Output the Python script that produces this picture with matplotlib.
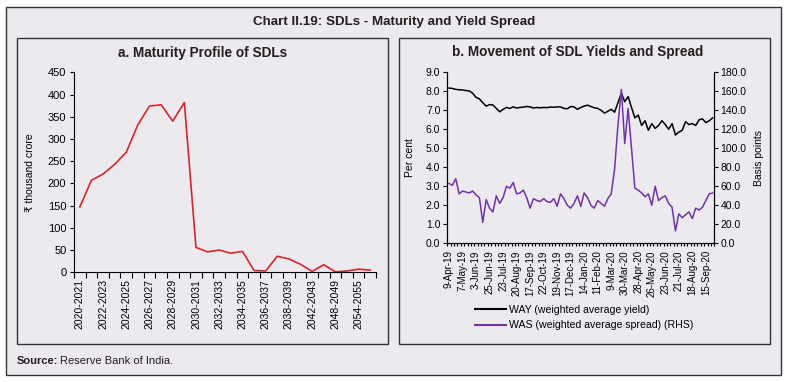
import matplotlib
matplotlib.use("Agg")
import matplotlib.pyplot as plt
from matplotlib.patches import Rectangle
from matplotlib.lines import Line2D
from matplotlib.ticker import FormatStrFormatter
import numpy as np

plt.rcParams['font.family'] = ['Liberation Sans', 'DejaVu Sans']

# ---- CONFIG ----
W, H = 788, 382
BG = '#ECE9EF'
TXT = '#231F20'
RED = '#D7262B'
PURPLE = '#7034A8'

# ---- DATA: a. maturity profile (thousand crore) ----
years = ['2020-2021', '2021-2022', '2022-2023', '2023-2024', '2024-2025',
         '2025-2026', '2026-2027', '2027-2028', '2028-2029', '2029-2030',
         '2030-2031', '2031-2032', '2032-2033', '2033-2034', '2034-2035',
         '2035-2036', '2036-2037', '2037-2038', '2038-2039', '2039-2040',
         '2042-2043', '2045-2046', '2048-2049', '2050-2051', '2054-2055',
         '2059-2060']
maturity = [147, 207, 221, 243, 270, 332, 374, 377, 340, 382,
            56, 46, 50, 43, 47, 4, 3, 36, 30, 18,
            2, 17, 1, 3, 7, 5]

# ---- DATA: b. SDL yields (%) and spread (bps), weekly ----
week_labels = ['9-Apr-19', '7-May-19', '3-Jun-19', '25-Jun-19', '23-Jul-19',
               '20-Aug-19', '17-Sep-19', '22-Oct-19', '19-Nov-19', '17-Dec-19',
               '14-Jan-20', '11-Feb-20', '9-Mar-20', '30-Mar-20', '28-Apr-20',
               '26-May-20', '23-Jun-20', '21-Jul-20', '18-Aug-20', '15-Sep-20']
LABEL_EVERY = 4

way = [8.17, 8.15, 8.10, 8.08, 8.07, 8.04, 8.02, 7.90, 7.68, 7.60,
       7.40, 7.22, 7.30, 7.28, 7.10, 6.92, 7.05, 7.15, 7.10, 7.18,
       7.12, 7.15, 7.17, 7.20, 7.18, 7.12, 7.15, 7.13, 7.15, 7.14,
       7.17, 7.16, 7.18, 7.18, 7.10, 7.08, 7.20, 7.18, 7.05, 7.15,
       7.22, 7.27, 7.20, 7.13, 7.10, 7.00, 6.85, 6.95, 7.05, 6.90,
       7.40, 7.90, 7.45, 7.72, 7.15, 6.60, 6.75, 6.20, 6.45, 5.95,
       6.30, 6.05, 6.20, 6.45, 6.25, 6.00, 6.30, 5.70, 5.85, 5.95,
       6.40, 6.25, 6.30, 6.20, 6.50, 6.55, 6.35, 6.45, 6.60]

was = [63, 61, 68, 52, 55, 54, 53, 55, 51, 48,
       22, 46, 37, 33, 50, 42, 48, 60, 58, 64,
       52, 53, 56, 48, 37, 47, 45, 44, 47, 44,
       43, 47, 39, 52, 47, 40, 37, 42, 50, 39,
       53, 48, 40, 37, 45, 42, 39, 47, 52, 78,
       125, 162, 105, 142, 100, 58, 56, 53, 49, 52,
       40, 60, 45, 48, 50, 42, 38, 13, 31, 27,
       30, 33, 26, 37, 35, 38, 45, 52, 53]


def fx(px):
    return px / W


def fy(py):
    return 1 - py / H


fig = plt.figure(figsize=(W / 100, H / 100), dpi=100, facecolor='white')

# ---- FRAMES ----
fig.patches.append(Rectangle((fx(6), fy(375)), fx(781) - fx(6), fy(7) - fy(375),
                             transform=fig.transFigure, facecolor=BG,
                             edgecolor='#333333', lw=1.0, zorder=-10))
for x0, x1 in [(17, 388), (399, 770)]:
    fig.patches.append(Rectangle((fx(x0), fy(344)), fx(x1) - fx(x0), fy(38) - fy(344),
                                 transform=fig.transFigure, facecolor='none',
                                 edgecolor='#333333', lw=1.0, zorder=-5))

fig.text(0.5, fy(22), 'Chart II.19: SDLs - Maturity and Yield Spread',
         ha='center', va='center', fontsize=9.6, fontweight='bold', color=TXT)
fig.text(fx(17), fy(361), 'Source:', ha='left', va='center', fontsize=8,
         fontweight='bold', color=TXT)
fig.text(fx(60), fy(361), 'Reserve Bank of India.', ha='left', va='center',
         fontsize=8, color=TXT)

# ---- a. MATURITY PROFILE ----
ax1 = fig.add_axes([fx(74), fy(272.3), (376 - 74) / W, 200 / H])
ax1.patch.set_alpha(0)
n1 = len(years)
ax1.plot(range(n1), maturity, color=RED, lw=1.2)
ax1.set_xlim(-0.5, n1 - 0.5)
ax1.set_ylim(0, 450)
ax1.set_yticks(range(0, 451, 50))
ax1.set_xticks(np.arange(-0.5, n1, 1))
ax1.set_xticklabels([])
ax1.set_xticks(range(0, n1, 2), minor=True)
ax1.set_xticklabels(years[::2], minor=True, rotation=90, fontsize=7.5)
ax1.tick_params(axis='x', which='major', length=4, direction='out')
ax1.tick_params(axis='x', which='minor', length=0, pad=5)
ax1.tick_params(axis='y', labelsize=8, length=3, pad=2.5)
for s in ['top', 'right']:
    ax1.spines[s].set_visible(False)
ax1.set_ylabel('₹ thousand crore', fontsize=7.5)
ax1.yaxis.set_label_coords((35 - 74) / 302, 0.5)
fig.text(fx(203), fy(53), 'a. Maturity Profile of SDLs', ha='center', va='center',
         fontsize=9.8, fontweight='bold', color=TXT)

# ---- b. YIELDS AND SPREAD ----
ax2 = fig.add_axes([fx(447.3), fy(243.3), 267 / W, 171 / H])
ax2.patch.set_alpha(0)
n2 = len(way)
x2 = np.arange(n2)
ax2.plot(x2, way, color='black', lw=1.1)
ax2.set_xlim(-0.5, n2 - 0.5)
ax2.set_ylim(0, 9)
ax2.set_yticks(range(0, 10))
ax2.yaxis.set_major_formatter(FormatStrFormatter('%.1f'))
ax2.set_xticks(np.arange(-0.5, n2, 1))
ax2.set_xticklabels([])
ax2.set_xticks(range(0, LABEL_EVERY * len(week_labels), LABEL_EVERY), minor=True)
ax2.set_xticklabels(week_labels, minor=True, rotation=90, fontsize=7)
ax2.tick_params(axis='x', which='major', length=2.5, direction='out')
ax2.tick_params(axis='x', which='minor', length=0, pad=5)
ax2.tick_params(axis='y', labelsize=7.5, length=3, pad=2)
ax2.spines['top'].set_visible(False)
ax2.set_ylabel('Per cent', fontsize=7.5)
ax2.yaxis.set_label_coords((415 - 447.3) / 267, 0.5)

ax2b = ax2.twinx()
ax2b.plot(x2, was, color=PURPLE, lw=1.1)
ax2b.set_ylim(0, 180)
ax2b.set_yticks(range(0, 181, 20))
ax2b.yaxis.set_major_formatter(FormatStrFormatter('%.1f'))
ax2b.tick_params(axis='y', labelsize=7.5, length=3, pad=1.5)
ax2b.spines['top'].set_visible(False)
ax2b.set_ylabel('Basis points', fontsize=7.5)
ax2b.yaxis.set_label_coords((754 - 447.3) / 267, 0.5)

fig.text(fx(578), fy(52), 'b. Movement of SDL Yields and Spread', ha='center',
         va='center', fontsize=9.8, fontweight='bold', color=TXT)

handles = [Line2D([], [], color='black', lw=1.5),
           Line2D([], [], color=PURPLE, lw=1.5)]
fig.legend(handles, ['WAY (weighted average yield)',
                     'WAS (weighted average spread) (RHS)'],
           loc='upper left', bbox_to_anchor=(fx(475), fy(305)), frameon=False,
           fontsize=7.6, handlelength=2.9, handletextpad=0.35, labelspacing=0.5,
           borderaxespad=0, borderpad=0)

fig.savefig('out.png', dpi=100, facecolor='white')
